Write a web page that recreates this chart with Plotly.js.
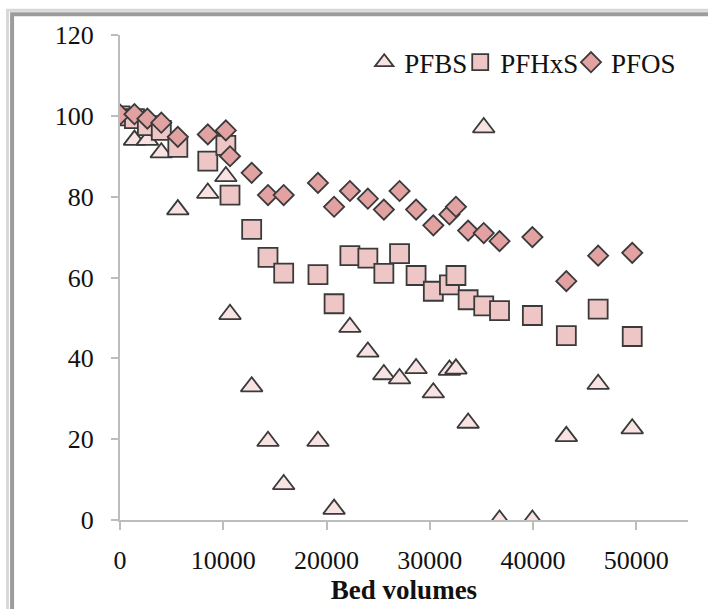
<!DOCTYPE html>
<html>
<head>
<meta charset="utf-8">
<script src="https://cdn.plot.ly/plotly-3.0.1.min.js"></script>
<style>
  html, body { margin: 0; padding: 0; background: #ffffff; }
  #chart { width: 708px; height: 609px; }
</style>
</head>
<body>
<div id="chart"></div>
<script>
// Bed volumes (shared x for all three series)
var bedVolumes = [0, 1400, 2650, 4000, 5600, 8500, 10250, 10650, 12750, 14330, 15850,
  19170, 20730, 22260, 24000, 25550, 27070, 28670, 30340, 31900, 32530, 33710,
  35220, 36750, 39930, 43220, 46300, 49600];

var pfbs = [100, 94, 94, 90.9, 76.8, 80.9, 85, 50.9, 33, 19.5, 8.8,
  19.5, 2.7, 47.7, 41.6, 36, 35, 37.5, 31.5, 37.1, 37.4, 24,
  97.1, 0, 0, 20.7, 33.6, 22.6];

var pfhxs = [100, 99.3, 97.6, 96.4, 92.2, 88.8, 92.7, 80.4, 71.9, 65, 61.1,
  60.7, 53.5, 65.4, 64.8, 61, 65.9, 60.5, 56.6, 58.2, 60.5, 54.5,
  53, 51.8, 50.6, 45.6, 52.2, 45.4];

var pfos = [100.3, 100.4, 99.3, 98.3, 94.8, 95.4, 96.4, 90, 85.9, 80.4, 80.4,
  83.4, 77.5, 81.4, 79.5, 76.8, 81.4, 76.8, 72.9, 75.6, 77.5, 71.6,
  71, 69, 70, 59.1, 65.4, 66.1];

var seriesNames = ['PFBS', 'PFHxS', 'PFOS'];
var xTickVals = [0, 10000, 20000, 30000, 40000, 50000];
var yTickVals = [0, 20, 40, 60, 80, 100, 120];

var serif = 'Liberation Serif, Times New Roman, serif';
var edge = '#3a3a3a';

var traces = [
  {
    x: bedVolumes, y: pfbs, name: seriesNames[0], type: 'scatter', mode: 'markers', legend: 'legend',
    marker: { symbol: 'triangle-up', size: 19, color: '#f8e2e2', line: { color: edge, width: 1.8 } }
  },
  {
    x: bedVolumes, y: pfhxs, name: seriesNames[1], type: 'scatter', mode: 'markers', legend: 'legend2',
    marker: { symbol: 'square', size: 19, color: '#efc6c6', line: { color: edge, width: 1.8 } }
  },
  {
    x: bedVolumes, y: pfos, name: seriesNames[2], type: 'scatter', mode: 'markers', legend: 'legend3',
    marker: { symbol: 'diamond', size: 15.5, color: '#e2a2a2', line: { color: edge, width: 1.8 } }
  }
];

var axisCommon = {
  showgrid: false, zeroline: false, showline: true,
  linecolor: '#bdbdbd', linewidth: 2,
  ticks: 'outside', tickcolor: '#bdbdbd', tickwidth: 2,
  tickfont: { family: serif, size: 26, color: '#111' }
};

function legendAt(xp) {
  return {
    x: xp, xanchor: 'left', y: 0.943, yanchor: 'middle',
    font: { family: serif, size: 27, color: '#111' },
    bgcolor: 'rgba(0,0,0,0)', itemwidth: 30, borderwidth: 0
  };
}

var layout = {
  width: 708, height: 609,
  margin: { l: 120, r: 20, t: 35, b: 89 },
  paper_bgcolor: '#ffffff', plot_bgcolor: '#ffffff',
  showlegend: true,
  legend: legendAt(0.430),
  legend2: legendAt(0.599),
  legend3: legendAt(0.794),
  xaxis: Object.assign({}, axisCommon, {
    range: [0, 55000], tickvals: xTickVals, ticktext: xTickVals.map(String),
    ticklen: 8, ticklabelstandoff: 8,
    title: { text: '<b>Bed volumes</b>', font: { family: serif, size: 27, color: '#111' }, standoff: 4 }
  }),
  yaxis: Object.assign({}, axisCommon, {
    range: [0, 120], tickvals: yTickVals, ticktext: yTickVals.map(String),
    ticklen: 7, ticklabelstandoff: 12
  }),
  shapes: [
    { type: 'rect', xref: 'paper', yref: 'paper', layer: 'below',
      x0: -0.190, x1: 1.3, y0: -0.4, y1: 1.043,
      line: { color: '#9c9c9c', width: 4 }, fillcolor: 'rgba(0,0,0,0)' },
    { type: 'rect', xref: 'paper', yref: 'paper', layer: 'below',
      x0: -0.198, x1: 1.3, y0: -0.4, y1: 1.051,
      line: { color: '#d8d8d8', width: 3 }, fillcolor: 'rgba(0,0,0,0)' }
  ]
};

Plotly.newPlot('chart', traces, layout, { staticPlot: true, displayModeBar: false });
</script>
</body>
</html>
